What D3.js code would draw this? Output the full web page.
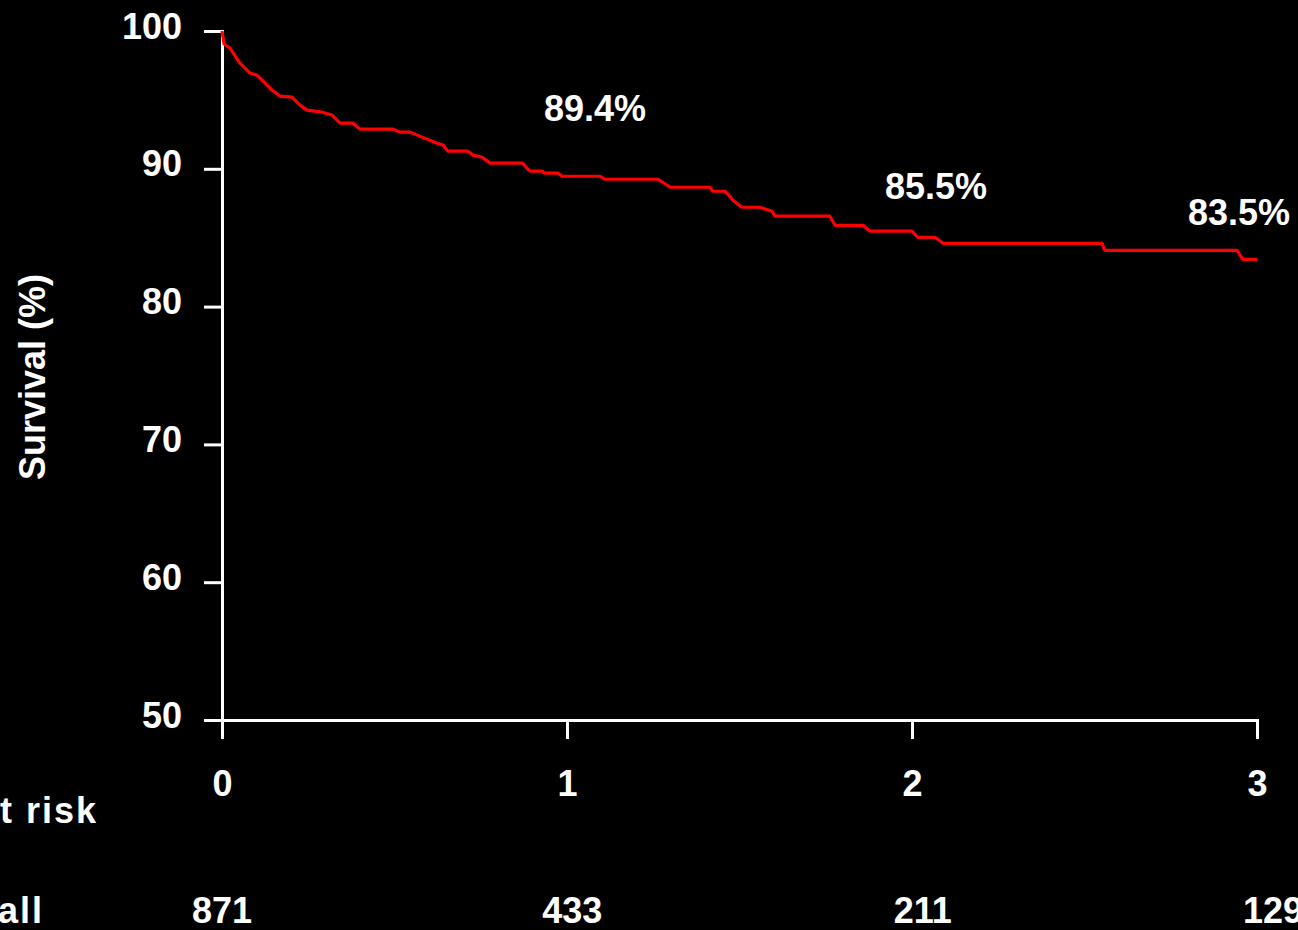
<!DOCTYPE html>
<html>
<head>
<meta charset="utf-8">
<script src="https://cdn.jsdelivr.net/npm/d3@7"></script>
<style>
  body { margin: 0; background: #000; }
  text { font-family: "Liberation Sans", Arial, sans-serif; font-weight: bold; fill: #fff; }
</style>
</head>
<body>
<div id="chart-area"></div>
<script>
// Kaplan-Meier curve, time in years, survival in %
var times = [0, 0.006, 0.023, 0.052, 0.081, 0.101, 0.125, 0.145, 0.168, 0.203,
  0.226, 0.246, 0.290, 0.319, 0.342, 0.380, 0.400, 0.496, 0.516, 0.545,
  0.580, 0.623, 0.641, 0.655, 0.713, 0.728, 0.754, 0.777, 0.872, 0.884,
  0.893, 0.928, 0.936, 0.974, 0.986, 1.096, 1.110, 1.264, 1.299, 1.414,
  1.423, 1.458, 1.467, 1.481, 1.507, 1.559, 1.594, 1.603, 1.762, 1.777,
  1.858, 1.878, 2.0, 2.017, 2.067, 2.090, 2.551, 2.559, 2.942, 2.959, 3.0]
var survival = [100, 99.06, 98.76, 97.67, 96.95, 96.80, 96.22, 95.71, 95.28, 95.20,
  94.62, 94.26, 94.11, 93.90, 93.31, 93.31, 92.88, 92.88, 92.66, 92.66,
  92.30, 91.86, 91.72, 91.28, 91.28, 90.99, 90.84, 90.41, 90.41, 90.04,
  89.83, 89.83, 89.68, 89.68, 89.46, 89.46, 89.24, 89.24, 88.66, 88.66,
  88.37, 88.37, 88.15, 87.72, 87.21, 87.21, 86.92, 86.56, 86.56, 85.90,
  85.90, 85.47, 85.47, 85.03, 85.03, 84.59, 84.59, 84.08, 84.08, 83.43, 83.43]

var xTicks = [0, 1, 2, 3]
var yTicks = [50, 60, 70, 80, 90, 100]

// survival estimates printed on the plot
var pctTimes = [1, 2, 3]
var pctValues = [89.4, 85.5, 83.5]

// numbers at risk
var riskTimes = [0, 1, 2, 3]
var atRisk = [871, 433, 211, 129]
var riskTitle = "Number at risk"
var riskRow = "Overall"

var width = 1298, height = 930

var svg = d3.select("#chart-area")
  .append("svg")
  .attr("width", width)
  .attr("height", height)

svg.append("rect").attr("width", width).attr("height", height).attr("fill", "#000")

var x = d3.scaleLinear().domain([0, 3]).range([222, 1257])
var y = d3.scaleLinear().domain([50, 100]).range([720, 31])

// y axis
var yAxis = svg.append("g")
  .attr("transform", "translate(" + x(0) + ",0)")
  .call(d3.axisLeft(y).tickValues(yTicks).tickSize(18).tickSizeOuter(18))
yAxis.selectAll("path, line").attr("stroke", "#fff").attr("stroke-width", 3)
yAxis.selectAll("text")
  .attr("x", -40)
  .attr("dy", 7)
  .style("font-size", "36px")
  .style("font-family", '"Liberation Sans", Arial, sans-serif')
  .style("font-weight", "bold")
  .attr("fill", "#fff")

// x axis
var xAxis = svg.append("g")
  .attr("transform", "translate(0," + y(50) + ")")
  .call(d3.axisBottom(x).tickValues(xTicks).tickFormat(d3.format("d")).tickSize(19).tickSizeOuter(19))
xAxis.selectAll("path, line").attr("stroke", "#fff").attr("stroke-width", 3)
xAxis.selectAll("text")
  .attr("y", 76)
  .attr("dy", 0)
  .style("font-size", "36px")
  .style("font-family", '"Liberation Sans", Arial, sans-serif')
  .style("font-weight", "bold")
  .attr("fill", "#fff")

// curve
var points = times.map(function (t, i) { return [t, survival[i]] })
var line = d3.line()
  .x(function (d) { return x(d[0]) })
  .y(function (d) { return y(d[1]) })

svg.append("path")
  .datum(points)
  .attr("d", line)
  .attr("fill", "none")
  .attr("stroke", "#ff0000")
  .attr("stroke-width", 3.2)
  .attr("stroke-linejoin", "round")

// percent labels (placement nudges)
var pctDx = [28, 24, -18]
var pctY = [121, 199, 225]
svg.selectAll(".pct")
  .data(pctValues)
  .enter()
  .append("text")
  .attr("class", "pct")
  .attr("x", function (d, i) { return x(pctTimes[i]) + pctDx[i] })
  .attr("y", function (d, i) { return pctY[i] })
  .attr("text-anchor", "middle")
  .style("font-size", "36px")
  .text(function (d) { return d3.format(".1f")(d) + "%" })

// y title
svg.append("text")
  .attr("transform", "translate(45,377) rotate(-90)")
  .attr("text-anchor", "middle")
  .style("font-size", "36px")
  .text("Survival (%)")

// at risk table
var xr = d3.scaleLinear().domain([0, 3]).range([222, 1273])
svg.append("text")
  .attr("x", 98)
  .attr("y", 823)
  .attr("text-anchor", "end")
  .style("font-size", "36px")
  .style("letter-spacing", "2px")
  .text(riskTitle)

svg.append("text")
  .attr("x", 44)
  .attr("y", 923)
  .attr("text-anchor", "end")
  .style("font-size", "36px")
  .style("letter-spacing", "2px")
  .text(riskRow)

svg.selectAll(".risk")
  .data(atRisk)
  .enter()
  .append("text")
  .attr("class", "risk")
  .attr("x", function (d, i) { return xr(riskTimes[i]) })
  .attr("y", 923)
  .attr("text-anchor", "middle")
  .style("font-size", "36px")
  .text(function (d) { return d })
</script>
</body>
</html>
